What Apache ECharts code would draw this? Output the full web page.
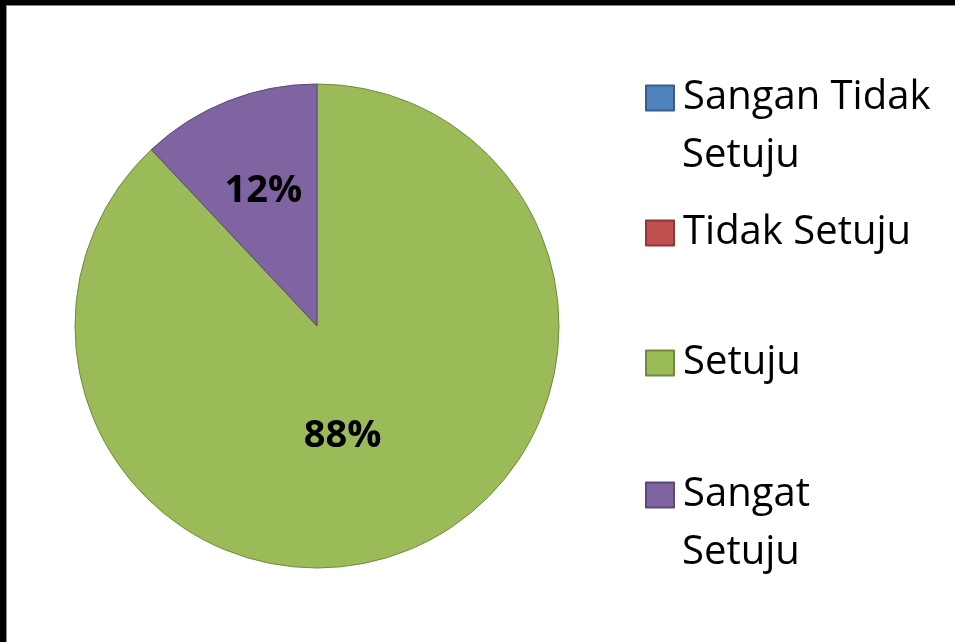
<!DOCTYPE html>
<html>
<head>
<meta charset="utf-8">
<script src="https://cdn.jsdelivr.net/npm/echarts@6/dist/echarts.min.js"></script>
<style>
  html, body { margin: 0; padding: 0; background: #fff; }
  #main { position: absolute; left: 0; top: 0; width: 955px; height: 642px; }
  #frame { position: absolute; left: 0; top: 0; width: 955px; height: 642px; box-sizing: border-box;
           border-top: 5px solid #000; border-left: 6px solid #000; pointer-events: none; }
  #frame div { position: absolute; left: 0; top: 0; right: 0; bottom: 0;
               border-top: 1px solid #888; border-left: 1px solid #888; }
</style>
</head>
<body>
<div id="main"></div>
<div id="frame"><div></div></div>
<script>
var categories = ['Sangan Tidak Setuju', 'Tidak Setuju', 'Setuju', 'Sangat Setuju'];
var values = [0, 0, 88, 12];
// legend text as the original wraps it
var legendFirst = ['Sangan Tidak', 'Tidak Setuju', 'Setuju', 'Sangat'];
var legendSecond = ['Setuju', '', '', 'Setuju'];

var colors = ['#4F81BD', '#C0504D', '#9BBB59', '#8064A2'];
var borders = ['#385D8A', '#8C3836', '#71893F', '#5C4776'];
var labelOffsets = [[0, 0], [0, 0], [-20, -5], [-8, -20]];
var legendCenters = [98, 233, 363, 495];
var FONT = 'Open Sans';

var myChart = echarts.init(document.getElementById('main'));

var data = [];
for (var i = 0; i < categories.length; i++) {
    data.push({
        name: categories[i],
        value: values[i],
        itemStyle: { color: colors[i], borderColor: borders[i] },
        label: { offset: labelOffsets[i] }
    });
}

var legends = [];
var extraText = [];
for (var j = 0; j < categories.length; j++) {
    legends.push({
        data: [categories[j]],
        left: 645,
        top: legendCenters[j] - 20,
        padding: 0,
        itemWidth: 28,
        itemHeight: 25,
        icon: 'rect',
        formatter: (function (lbl) { return function () { return lbl; }; })(legendFirst[j]),
        textStyle: {
            fontFamily: FONT,
            fontSize: 40,
            color: '#000',
            lineHeight: 40,
            padding: [0, 0, 0, 4]
        },
        selectedMode: false
    });
    if (legendSecond[j]) {
        extraText.push({
            type: 'text',
            left: 682,
            top: legendCenters[j] + 58 - 20,
            style: {
                text: legendSecond[j],
                fontFamily: FONT,
                fontSize: 40,
                lineHeight: 40,
                fill: '#000'
            }
        });
    }
}

var option = {
    animation: false,
    backgroundColor: '#fff',
    legend: legends,
    graphic: extraText,
    series: [
        {
            type: 'pie',
            center: [317, 326],
            radius: 242,
            startAngle: 90,
            clockwise: true,
            data: data,
            itemStyle: { borderWidth: 1 },
            label: {
                position: 'inside',
                fontFamily: FONT,
                fontWeight: 'bold',
                fontSize: 38,
                color: '#000',
                formatter: function (p) { return p.value > 0 ? p.value + '%' : ''; }
            },
            labelLine: { show: false },
            emphasis: { disabled: true }
        }
    ]
};

myChart.setOption(option);
</script>
</body>
</html>
